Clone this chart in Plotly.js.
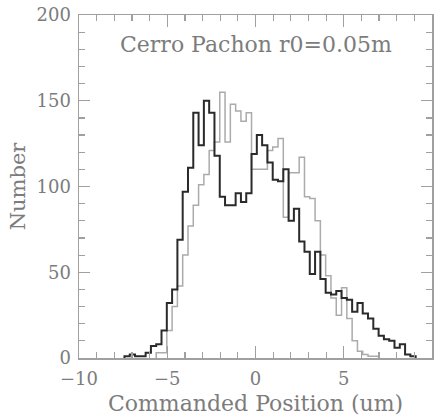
<!DOCTYPE html>
<html>
<head>
<meta charset="utf-8">
<script src="https://cdn.plot.ly/plotly-3.0.1.min.js"></script>
<style>html,body{margin:0;padding:0;background:#fff;}#chart{width:443px;height:417px;}</style>
</head>
<body>
<div id="chart"></div>
<script>
// Histogram bins (commanded position, um)
const binStart = -7.425;
const binWidth = 0.3;

// Counts per bin, series 1 (dark line)
const countsDark = [1,2,1,1,3,7,8,16,32,40,69,97,111,143,124,150,143,118,94,89,89,96,91,96,119,130,124,114,104,103,110,80,87,68,62,49,62,46,38,37,39,35,34,27,32,26,23,17,13,11,10,6,8,2,1];
// Counts per bin, series 2 (light line)
const countsLight = [0,0,0,0,0,0,3,3,16,30,42,60,77,89,101,107,121,126,155,126,148,144,138,143,110,110,110,121,123,128,82,108,108,117,94,93,80,60,48,35,25,41,23,10,4,2,1,1,0,0,0,0,0,0,0];

const titleText = "Cerro Pachon r0=0.05m";
const xTitle = "Commanded Position (um)";
const yTitle = "Number";

function steps(counts) {
  let first = counts.findIndex(v => v > 0);
  let last = counts.length - 1;
  while (last > 0 && counts[last] <= 0) last--;
  const xs = [], ys = [];
  xs.push(binStart + first * binWidth); ys.push(0);
  for (let i = first; i <= last; i++) {
    xs.push(binStart + i * binWidth); ys.push(counts[i]);
  }
  xs.push(binStart + (last + 1) * binWidth); ys.push(counts[last]);
  xs.push(binStart + (last + 1) * binWidth); ys.push(0);
  return {xs, ys};
}

const sL = steps(countsLight);
const sD = steps(countsDark);

const font = "DejaVu Serif, Liberation Serif, serif";
const txt = "#7c7c7c";
const axc = "#a0a0a0";

const traces = [
  {x: sL.xs, y: sL.ys, type: "scatter", mode: "lines", line: {shape: "hv", color: "#ababab", width: 1.5}, hoverinfo: "skip"},
  {x: sD.xs, y: sD.ys, type: "scatter", mode: "lines", line: {shape: "hv", color: "#2a2a2a", width: 2}, hoverinfo: "skip"}
];

const layout = {
  width: 443, height: 417,
  margin: {l: 79, r: 11, t: 15, b: 59},
  paper_bgcolor: "#fff", plot_bgcolor: "#fff",
  showlegend: false,
  font: {family: font, color: txt, size: 18},
  xaxis: {
    range: [-10, 10], autorange: false,
    tickmode: "linear", tick0: -10, dtick: 5,
    ticks: "inside", ticklen: 12, tickwidth: 1.2, tickcolor: axc,
    minor: {dtick: 1, ticks: "inside", ticklen: 6, tickwidth: 1.2, tickcolor: axc},
    showline: true, linecolor: axc, linewidth: 1.5, mirror: "ticks",
    showgrid: false, zeroline: false,
    ticklabelstandoff: 4,
    tickfont: {family: font, size: 18, color: txt},
    title: {text: xTitle, font: {family: font, size: 22, color: txt}, standoff: 7}
  },
  yaxis: {
    range: [0, 200], autorange: false,
    tickmode: "linear", tick0: 0, dtick: 50,
    ticks: "inside", ticklen: 11, tickwidth: 1.2, tickcolor: axc,
    minor: {dtick: 10, ticks: "inside", ticklen: 6, tickwidth: 1.2, tickcolor: axc},
    showline: true, linecolor: axc, linewidth: 1.5, mirror: "ticks",
    showgrid: false, zeroline: false,
    ticklabelstandoff: 3,
    tickfont: {family: font, size: 18, color: txt},
    title: {text: yTitle, font: {family: font, size: 21, color: txt}, standoff: 5}
  },
  annotations: [{
    text: titleText, xref: "x", yref: "y", x: 0, y: 183,
    showarrow: false, font: {family: font, size: 22, color: txt}
  }]
};

Plotly.newPlot("chart", traces, layout, {staticPlot: true, displayModeBar: false});
</script>
</body>
</html>
